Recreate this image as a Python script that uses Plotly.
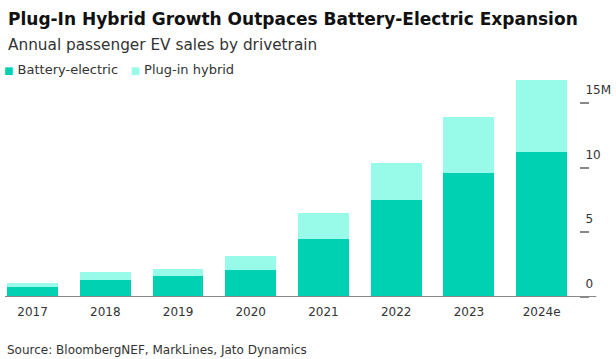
import plotly.graph_objects as go

years = ["2017", "2018", "2019", "2020", "2021", "2022", "2023", "2024e"]
bev = [0.75, 1.3, 1.6, 2.1, 4.5, 7.5, 9.6, 11.2]
phev = [0.35, 0.6, 0.55, 1.05, 2.0, 2.9, 4.3, 5.6]
ytick_vals = [0, 5, 10, 15]
ytick_text = ["0", "5", "10", "15M"]
series_names = ["Battery-electric", "Plug-in hybrid"]

BEV_C = "#00d1b2"
PHEV_C = "#98fbea"
FONT = "DejaVu Sans, Liberation Sans, sans-serif"

W, H = 616, 359
M_L, M_R, M_T, M_B = 5, 28, 80, 62
PLOT_H = H - M_T - M_B


def py(pixel_y):
    """paper y coordinate for a pixel row (from top)"""
    return (H - M_B - pixel_y) / PLOT_H


fig = go.Figure()
fig.add_trace(go.Bar(name=series_names[0], x=years, y=bev, marker_color=BEV_C,
                     marker_line_width=0, width=0.7, showlegend=False))
fig.add_trace(go.Bar(name=series_names[1], x=years, y=phev, marker_color=PHEV_C,
                     marker_line_width=0, width=0.7, showlegend=False))

sq = '<span style="color:{c};font-size:10px">■</span>'
legend_text = (sq.format(c=BEV_C) + f' {series_names[0]}&nbsp;&nbsp;&nbsp;'
               + sq.format(c=PHEV_C) + f' {series_names[1]}')

fig.update_layout(
    barmode="stack",
    width=W, height=H,
    margin=dict(l=M_L, r=M_R, t=M_T, b=M_B),
    paper_bgcolor="white", plot_bgcolor="white",
    font=dict(family=FONT, color="#333333", size=12),
    showlegend=False,
    xaxis=dict(type="category", range=[-0.379, 7.514], showgrid=False,
               showline=False, ticks="", ticklabelstandoff=6,
               tickfont=dict(size=12, color="#333333"), fixedrange=True),
    yaxis=dict(range=[0, 16.8], side="right", showgrid=False, zeroline=False,
               showline=False, tickvals=ytick_vals, ticktext=ytick_text,
               ticks="outside", ticklen=9, tickwidth=1.5, tickcolor="#888888",
               ticklabelposition="outside top", ticklabelstandoff=3, ticklabelshift=-4,
               tickfont=dict(size=12, color="#333333")),
    shapes=[dict(type="line", xref="paper", yref="y", x0=0, x1=1.03, y0=0, y1=0,
                 line=dict(color="#888888", width=2))],
    annotations=[
        dict(text="<b>Plug-In Hybrid Growth Outpaces Battery-Electric Expansion</b>",
             xref="paper", yref="paper", x=0, y=py(19), xanchor="left", yanchor="middle",
             xshift=1, showarrow=False, font=dict(size=17, color="#111111")),
        dict(text="Annual passenger EV sales by drivetrain",
             xref="paper", yref="paper", x=0, y=py(45), xanchor="left", yanchor="middle",
             xshift=1, showarrow=False, font=dict(size=15.3, color="#333333")),
        dict(text=legend_text,
             xref="paper", yref="paper", x=0, y=py(69), xanchor="left", yanchor="middle",
             xshift=-3, showarrow=False, font=dict(size=13, color="#333333")),
        dict(text="Source: BloombergNEF, MarkLines, Jato Dynamics",
             xref="paper", yref="paper", x=0, y=py(350), xanchor="left", yanchor="middle",
             showarrow=False, font=dict(size=12, color="#333333")),
    ],
)

fig.write_html("out.html")
